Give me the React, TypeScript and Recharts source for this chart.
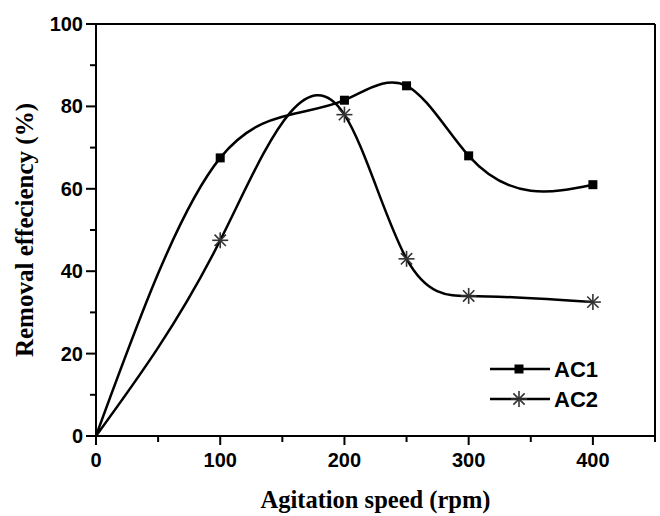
import React from 'react';
import { ComposedChart, Line, XAxis, YAxis, ReferenceLine, Legend, Label } from 'recharts';

const speeds = [0, 100, 200, 250, 300, 400];
const ac1 = [0, 67.5, 81.5, 85, 68, 61];
const ac2 = [0, 47.5, 78, 43, 34, 32.5];
const xTicks = [0, 50, 100, 150, 200, 250, 300, 350, 400, 450];
const yTicks = [0, 10, 20, 30, 40, 50, 60, 70, 80, 90, 100];
const xMajor = [0, 100, 200, 300, 400];
const yMajor = [0, 20, 40, 60, 80, 100];
const seriesNames = ['AC1', 'AC2'];

const data = speeds.map((s, i) => ({ speed: s, ac1: ac1[i], ac2: ac2[i] }));

const TS = 9;
const TM = 8;
const TMY = 4;
const TICK_FONT = '"Liberation Sans", Arial, sans-serif';
const LABEL_FONT = '"Liberation Serif", "Times New Roman", serif';

// Natural cubic spline of y as a function of x (like Origin's spline connection)
function splineX(context: any) {
  let xs: number[] = [];
  let ys: number[] = [];
  return {
    areaStart() {},
    areaEnd() {},
    lineStart() {
      xs = [];
      ys = [];
    },
    point(x: number, y: number) {
      xs.push(+x);
      ys.push(+y);
    },
    lineEnd() {
      const n = xs.length;
      if (n === 0) return;
      context.moveTo(xs[0], ys[0]);
      if (n === 1) return;
      if (n === 2) {
        context.lineTo(xs[1], ys[1]);
        return;
      }
      const h: number[] = [];
      for (let i = 0; i < n - 1; i++) h.push(xs[i + 1] - xs[i]);
      const M = new Array(n).fill(0);
      const a: number[] = [], b: number[] = [], c: number[] = [], d: number[] = [];
      for (let i = 1; i < n - 1; i++) {
        a.push(h[i - 1]);
        b.push(2 * (h[i - 1] + h[i]));
        c.push(h[i]);
        d.push(6 * ((ys[i + 1] - ys[i]) / h[i] - (ys[i] - ys[i - 1]) / h[i - 1]));
      }
      const m = b.length;
      for (let i = 1; i < m; i++) {
        const w = a[i] / b[i - 1];
        b[i] -= w * c[i - 1];
        d[i] -= w * d[i - 1];
      }
      const sol = new Array(m).fill(0);
      sol[m - 1] = d[m - 1] / b[m - 1];
      for (let i = m - 2; i >= 0; i--) sol[i] = (d[i] - c[i] * sol[i + 1]) / b[i];
      for (let i = 0; i < m; i++) M[i + 1] = sol[i];
      for (let i = 0; i < n - 1; i++) {
        const hi = h[i];
        const s = (ys[i + 1] - ys[i]) / hi;
        const d0 = s - (hi * (2 * M[i] + M[i + 1])) / 6;
        const d1 = s + (hi * (M[i] + 2 * M[i + 1])) / 6;
        context.bezierCurveTo(
          xs[i] + hi / 3,
          ys[i] + (d0 * hi) / 3,
          xs[i + 1] - hi / 3,
          ys[i + 1] - (d1 * hi) / 3,
          xs[i + 1],
          ys[i + 1]
        );
      }
    },
  };
}

const XTick = (p: any) => {
  const v = p.payload.value;
  const major = xMajor.includes(v);
  const axisY = p.y - TS - TM;
  return (
    <g>
      <line x1={p.x} x2={p.x} y1={axisY} y2={axisY + (major ? 9 : 6)} stroke="#000" strokeWidth={2} />
      {major && (
        <text x={p.x} y={axisY + 31} textAnchor="middle" fontFamily={TICK_FONT} fontWeight="bold" fontSize={20} fill="#000">
          {v}
        </text>
      )}
    </g>
  );
};

const YTick = (p: any) => {
  const v = p.payload.value;
  const major = yMajor.includes(v);
  const axisX = p.x + TS + TMY;
  return (
    <g>
      <line x1={axisX} x2={axisX - (major ? 10 : 6)} y1={p.y} y2={p.y} stroke="#000" strokeWidth={2} />
      {major && (
        <text x={axisX - 13} y={p.y + 7} textAnchor="end" fontFamily={TICK_FONT} fontWeight="bold" fontSize={20} fill="#000">
          {v}
        </text>
      )}
    </g>
  );
};

const Square = ({ cx, cy }: { cx: number; cy: number }) => (
  <rect x={cx - 4.5} y={cy - 4.5} width={9} height={9} fill="#000" />
);

const Star = ({ cx, cy, r = 8 }: { cx: number; cy: number; r?: number }) => {
  const d = r * 0.707;
  return (
    <g stroke="#333" strokeWidth={1.6}>
      <line x1={cx} x2={cx} y1={cy - r} y2={cy + r} />
      <line x1={cx - r} x2={cx + r} y1={cy} y2={cy} />
      <line x1={cx - d} x2={cx + d} y1={cy - d} y2={cy + d} />
      <line x1={cx - d} x2={cx + d} y1={cy + d} y2={cy - d} />
    </g>
  );
};

const squareDot = (p: any) => {
  if (p.payload.speed === 0) return <g key={`s${p.index}`} />;
  return <g key={`s${p.index}`}><Square cx={p.cx} cy={p.cy} /></g>;
};

const starDot = (p: any) => {
  if (p.payload.speed === 0) return <g key={`a${p.index}`} />;
  return <g key={`a${p.index}`}><Star cx={p.cx} cy={p.cy} /></g>;
};

const LegendContent = () => (
  <svg width={160} height={64}>
    <line x1={2} x2={62} y1={14} y2={14} stroke="#000" strokeWidth={2.5} />
    <Square cx={31} cy={14} />
    <text x={66} y={22} fontFamily={TICK_FONT} fontWeight="bold" fontSize={22} fill="#000">{seriesNames[0]}</text>
    <line x1={2} x2={62} y1={44} y2={44} stroke="#000" strokeWidth={2.5} />
    <Star cx={31} cy={44} />
    <text x={66} y={52} fontFamily={TICK_FONT} fontWeight="bold" fontSize={22} fill="#000">{seriesNames[1]}</text>
  </svg>
);

export default function App() {
  return (
    <div style={{ position: 'absolute', left: 0, top: 0, background: '#fff' }}>
      <ComposedChart width={660} height={516} data={data} margin={{ top: 24, right: 5, left: 0, bottom: 0 }}>
        <XAxis
          dataKey="speed"
          type="number"
          domain={[0, 450]}
          ticks={xTicks}
          interval={0}
          tickLine={false}
          tickSize={TS}
          tickMargin={TM}
          tick={XTick}
          axisLine={{ stroke: '#000', strokeWidth: 2 }}
          height={80}
        >
          <Label
            value="Agitation speed (rpm)"
            position="insideBottom"
            offset={8}
            style={{ fontFamily: LABEL_FONT, fontWeight: 'bold', fontSize: 24.5, fill: '#000' }}
          />
        </XAxis>
        <YAxis
          type="number"
          domain={[0, 100]}
          ticks={yTicks}
          interval={0}
          tickLine={false}
          tickSize={TS}
          tickMargin={TMY}
          tick={YTick}
          axisLine={{ stroke: '#000', strokeWidth: 2 }}
          width={96}
        >
          <Label
            value="Removal effeciency (%)"
            angle={-90}
            position="insideLeft"
            offset={24}
            style={{ textAnchor: 'middle', fontFamily: LABEL_FONT, fontWeight: 'bold', fontSize: 25, fill: '#000' }}
          />
        </YAxis>
        <ReferenceLine y={100} stroke="#000" strokeWidth={2} />
        <ReferenceLine x={450} stroke="#000" strokeWidth={2} />
        <Line type={splineX as any} dataKey="ac1" name={seriesNames[0]} stroke="#000" strokeWidth={2.5} dot={squareDot} activeDot={false} isAnimationActive={false} />
        <Line type={splineX as any} dataKey="ac2" name={seriesNames[1]} stroke="#000" strokeWidth={2.5} dot={starDot} activeDot={false} isAnimationActive={false} />
        <Legend
          layout="horizontal"
          align="center"
          verticalAlign="middle"
          content={LegendContent}
          wrapperStyle={{ position: 'absolute', left: 488, top: 355, width: 160, height: 64 }}
        />
      </ComposedChart>
    </div>
  );
}
